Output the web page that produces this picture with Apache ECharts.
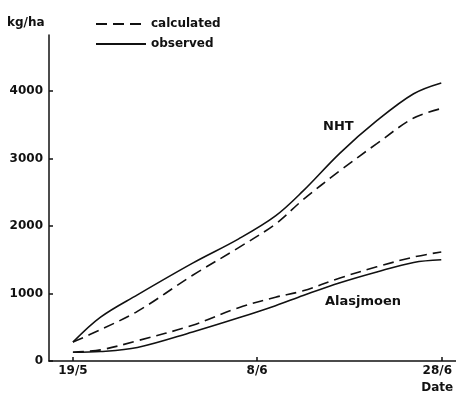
<!DOCTYPE html>
<html>
<head>
<meta charset="utf-8">
<script src="https://cdn.jsdelivr.net/npm/echarts@6/dist/echarts.min.js"></script>
<style>
  html, body { margin: 0; padding: 0; background: #fff; }
  #chart { width: 456px; height: 394px; }
</style>
</head>
<body>
<div id="chart"></div>
<script>
// days counted from 19/5
var days = [0, 3, 7, 13, 18, 22, 25, 29, 33, 37, 40];
var nhtObserved = [280, 650, 980, 1450, 1810, 2150, 2520, 3080, 3560, 3960, 4120];
var nhtCalculated = [280, 465, 735, 1270, 1680, 2030, 2390, 2820, 3220, 3600, 3740];
var alasObserved = [130, 140, 200, 430, 640, 820, 970, 1160, 1320, 1460, 1500];
var alasCalculated = [130, 165, 300, 530, 790, 945, 1040, 1230, 1395, 1540, 1615];
var xTicks = [0, 20, 40];
var xTickLabels = ['19/5', '8/6', '28/6'];
var xAxisName = 'Date';
var yTicks = [0, 1000, 2000, 3000, 4000];

function pairs (vals) {
  return days.map(function (d, i) { return [d, vals[i]]; });
}

var chart = echarts.init(document.getElementById('chart'));
var font = 'DejaVu Sans';
var ink = '#111';

function lineSeries (name, vals, dashed) {
  return {
    name: name,
    type: 'line',
    data: pairs(vals),
    smooth: 0.35,
    symbol: 'none',
    showSymbol: false,
    lineStyle: { color: ink, width: 1.6, type: dashed ? [11, 6] : 'solid' },
    itemStyle: { color: ink }
  };
}

var option = {
  animation: false,
  textStyle: { fontFamily: font, color: ink },
  grid: { left: 49, right: 0, top: 35, bottom: 33, containLabel: false, outerBoundsMode: 'none' },
  legend: {
    left: 90,
    top: 13,
    orient: 'vertical',
    itemWidth: 50,
    itemHeight: 10,
    itemGap: 8,
    itemStyle: { opacity: 0 },
    textStyle: { fontFamily: font, fontSize: 12, fontWeight: 'bold', color: ink },
    data: ['calculated', 'observed']
  },
  xAxis: {
    type: 'value',
    min: -2.6,
    max: 41.6,
    axisLine: { onZero: false, lineStyle: { color: ink, width: 1.5 } },
    axisTick: { inside: true, length: 4, customValues: xTicks, lineStyle: { color: ink, width: 1.5 } },
    axisLabel: {
      customValues: xTicks,
      margin: 1,
      fontSize: 12,
      fontWeight: 'bold',
      color: ink,
      lineHeight: 17,
      formatter: function (v) {
        var i = xTicks.indexOf(v);
        if (i === xTicks.length - 1) {
          return '{e|' + xTickLabels[i] + '}\n{e|' + xAxisName + '}';
        }
        return xTickLabels[i];
      },
      rich: {
        e: { fontSize: 12, fontWeight: 'bold', color: ink, lineHeight: 17, padding: [0, 8, 0, 0] }
      }
    },
    splitLine: { show: false }
  },
  yAxis: {
    type: 'value',
    min: 0,
    max: 4830,
    axisLine: { show: true, onZero: false, lineStyle: { color: ink, width: 1.5 } },
    axisTick: { show: true, inside: true, length: 4, customValues: yTicks, lineStyle: { color: ink, width: 1.5 } },
    axisLabel: {
      customValues: yTicks,
      margin: 6,
      fontSize: 12,
      fontWeight: 'bold',
      color: ink,
      formatter: function (v) { return String(v); }
    },
    splitLine: { show: false }
  },
  graphic: [
    { type: 'text', left: 7, top: 17, style: { text: 'kg/ha', font: 'bold 12px ' + font, fill: ink } },
    { type: 'text', left: 323, top: 120, style: { text: 'NHT', font: 'bold 13px ' + font, fill: ink } },
    { type: 'text', left: 325, top: 295, style: { text: 'Alasjmoen', font: 'bold 13px ' + font, fill: ink } }
  ],
  series: [
    lineSeries('calculated', nhtCalculated, true),
    lineSeries('observed', nhtObserved, false),
    lineSeries('calculated', alasCalculated, true),
    lineSeries('observed', alasObserved, false)
  ]
};
chart.setOption(option, true);
</script>
</body>
</html>
